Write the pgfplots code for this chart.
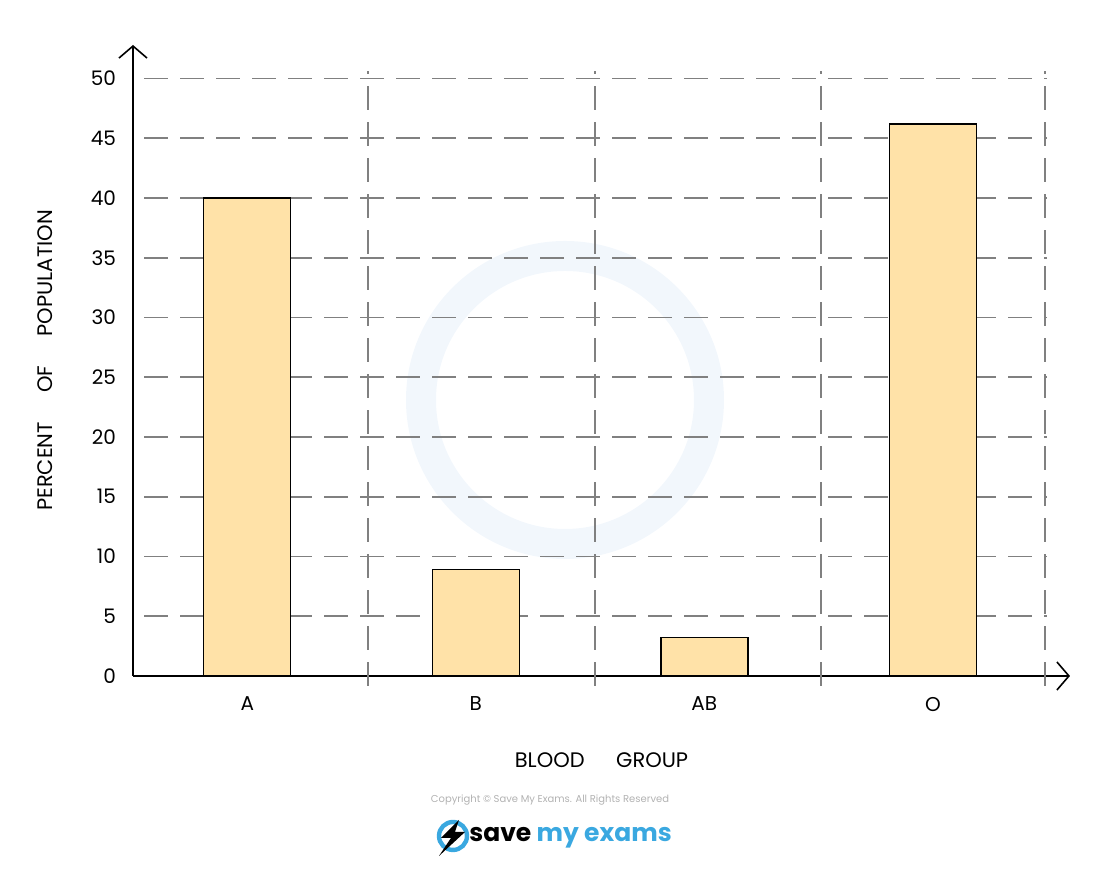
\documentclass[border=0pt]{standalone}
\usepackage{fontspec}
\setmainfont{Poppins}
\usepackage{pgfplots}
\pgfplotsset{compat=1.18}
\usetikzlibrary{arrows.meta}

\definecolor{barfill}{HTML}{FFE2A8}
\definecolor{gridgrey}{HTML}{808080}
\definecolor{smeblue}{HTML}{3AA8E0}
\definecolor{wmark}{HTML}{F2F7FC}

\begin{document}
\begin{tikzpicture}
% fixed page: 1100x870 px at 0.5pt per px, origin at the axis corner
\path[use as bounding box] (-66.5pt,-97pt) rectangle (483.5pt,338pt);
% faint watermark ring
\draw[wmark, line width=15pt] (216pt,138pt) circle (72pt);

\begin{axis}[
    at={(0pt,0pt)}, anchor=south west,
    scale only axis,
    width=468.5pt, height=315.5pt,
    xmin=-0.5, xmax=3.6,
    ymin=0, ymax=52.8,
    axis lines=left,
    axis line style={line width=0.8pt, -{Straight Barb[length=6pt, width=14pt, line width=0.8pt]}},
    xtick={0,1,2,3},
    xticklabels={A,B,AB,O},
    ytick={0,5,...,50},
    major tick length=0pt,
    /pgf/number format/assume math mode=true,
    tick label style={font=\fontsize{10}{12}\selectfont},
    xticklabel style={yshift=-7pt},
    yticklabel style={xshift=-5pt},
    xlabel={BLOOD\hspace{1.5em}GROUP},
    ylabel={PERCENT\hspace{1.4em}OF\hspace{1.4em}POPULATION},
    label style={font=\fontsize{10.5}{12}\selectfont},
    xlabel style={at={(axis description cs:0.5,0)}, anchor=center, yshift=-42pt},
    ylabel style={at={(axis description cs:0,0.5)}, anchor=center, yshift=44pt},
    clip=false,
]
% dashed grid
\pgfplotsinvokeforeach{5,10,...,50}{
  \draw[gridgrey, line width=0.9pt, dash pattern=on 12pt off 6pt]
    (axis cs:-0.45,#1) -- (axis cs:3.5,#1);
}
\pgfplotsinvokeforeach{0.53,1.52,2.51,3.49}{
  \draw[gridgrey, line width=0.9pt, dash pattern=on 12pt off 6pt]
    (axis cs:#1,-0.8) -- (axis cs:#1,50.6);
}
\addplot[ybar, bar width=43.5pt, fill=barfill, draw=black, line width=0.7pt]
  coordinates {(0,40) (1,8.9) (2,3.2) (3,46.2)};
\end{axis}

% footer
\node[text=black!30, font=\fontsize{5}{6}\selectfont] at (208.5pt,-62pt)
  {Copyright \textcopyright{} Save My Exams. All Rights Reserved};
\draw[smeblue, line width=2.2pt] (160pt,-80pt) circle (7pt);
\fill[black] (163pt,-72pt) -- (154pt,-81pt) -- (159pt,-81pt) -- (153pt,-90pt)
  -- (166pt,-78pt) -- (161pt,-78pt) -- cycle;
\node[anchor=west, font=\fontsize{12.5}{14}\selectfont\bfseries, inner sep=0pt]
  at (168pt,-81pt) {save \textcolor{smeblue}{my exams}};
\end{tikzpicture}
\end{document}
